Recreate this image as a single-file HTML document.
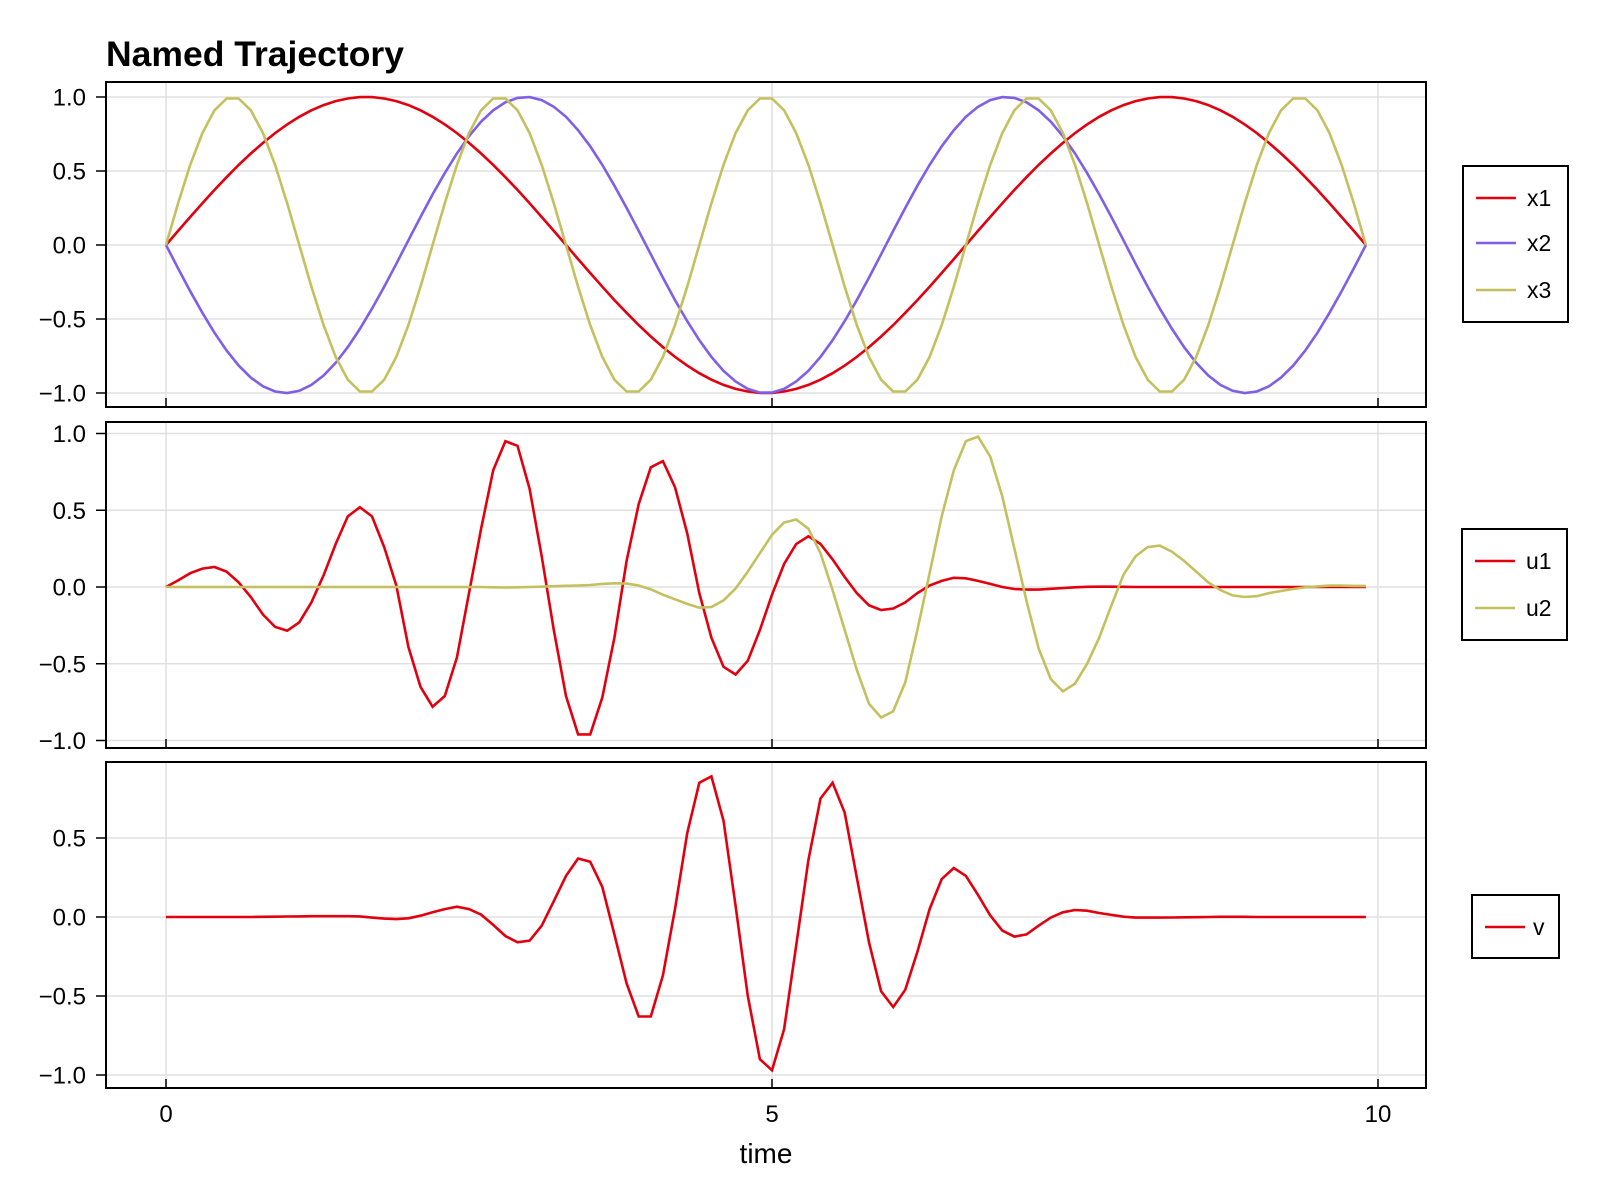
<!DOCTYPE html>
<html><head><meta charset="utf-8"><style>
html,body{margin:0;padding:0;background:#fff;}
svg{display:block;font-family:"Liberation Sans",sans-serif;}
</style></head><body>
<svg id="fig" width="1600" height="1200" viewBox="0 0 1600 1200">
<text x="106" y="66" font-size="35.5" font-weight="bold">Named Trajectory</text>
<text x="766" y="1163" font-size="28" text-anchor="middle">time</text>
<g id="legend-x">
<rect x="1463" y="166" width="105" height="156" fill="#fff" stroke="#000" stroke-width="2"/>
<line x1="1476" y1="198" x2="1516" y2="198" stroke="#e2000f" stroke-width="2.5"/>
<text x="1527" y="206" font-size="23">x1</text>
<line x1="1476" y1="243" x2="1516" y2="243" stroke="#7f5fe8" stroke-width="2.5"/>
<text x="1527" y="251" font-size="23">x2</text>
<line x1="1476" y1="290" x2="1516" y2="290" stroke="#c5c05e" stroke-width="2.5"/>
<text x="1527" y="298" font-size="23">x3</text>
</g>
<g id="legend-u">
<rect x="1462" y="529" width="105" height="111" fill="#fff" stroke="#000" stroke-width="2"/>
<line x1="1475" y1="561" x2="1515" y2="561" stroke="#e2000f" stroke-width="2.5"/>
<text x="1526" y="569" font-size="23">u1</text>
<line x1="1475" y1="608" x2="1515" y2="608" stroke="#c5c05e" stroke-width="2.5"/>
<text x="1526" y="616" font-size="23">u2</text>
</g>
<g id="legend-v">
<rect x="1472" y="895" width="87" height="63" fill="#fff" stroke="#000" stroke-width="2"/>
<line x1="1485" y1="927" x2="1525" y2="927" stroke="#e2000f" stroke-width="2.5"/>
<text x="1533" y="935" font-size="23">v</text>
</g>
</svg>
<script>
const xTicks = [0, 5, 10];
const xTickLabels = ["0", "5", "10"];
const yTicksTop = [-1, -0.5, 0, 0.5, 1];
const yTickLabelsTop = ["\u22121.0", "\u22120.5", "0.0", "0.5", "1.0"];
const yTicksBottom = [-1, -0.5, 0, 0.5];
const yTickLabelsBottom = ["\u22121.0", "\u22120.5", "0.0", "0.5"];
const tStep = 0.1;
const x1 = [0,.095,.189,.282,.372,.458,.541,.618,.690,.756,.815,.866,.910,.945,.972,.990,.999,.999,.990,.972,.945,.910,.866,.815,.756,.690,.618,.541,.458,.372,.282,.189,.095,0,
-.095,-.189,-.282,-.372,-.458,-.541,-.618,-.690,-.756,-.815,-.866,-.910,-.945,-.972,-.990,-.999,-.999,-.990,-.972,-.945,-.910,-.866,-.815,-.756,-.690,-.618,-.541,-.458,-.372,-.282,-.189,-.095,0,
.095,.189,.282,.372,.458,.541,.618,.690,.756,.815,.866,.910,.945,.972,.990,.999,.999,.990,.972,.945,.910,.866,.815,.756,.690,.618,.541,.458,.372,.282,.189,.095,0];
const x2 = [0,-.158,-.312,-.458,-.593,-.713,-.815,-.896,-.955,-.990,-1.0,-.985,-.945,-.882,-.796,-.690,-.567,-.430,-.282,-.127,
.032,.189,.342,.486,.618,.735,.833,.910,.964,.994,.999,.979,.934,.866,.776,.667,.541,.401,.251,.095,
-.063,-.220,-.372,-.514,-.643,-.756,-.850,-.922,-.972,-.997,
-.997,-.972,-.922,-.850,-.756,-.643,-.514,-.372,-.220,-.063,
.095,.251,.401,.541,.667,.776,.866,.934,.979,.999,.994,.964,.910,.833,.735,.618,.486,.342,.189,.032,
-.127,-.282,-.430,-.567,-.690,-.796,-.882,-.945,-.985,-1.0,-.990,-.955,-.896,-.815,-.713,-.593,-.458,-.312,-.158,0];
const x3 = [0,.282,.541,.756,.910,.990,.990,.910,.756,.541,.282,0,-.282,-.541,-.756,-.910,-.990,-.990,-.910,-.756,-.541,-.282,
0,.282,.541,.756,.910,.990,.990,.910,.756,.541,.282,0,-.282,-.541,-.756,-.910,-.990,-.990,-.910,-.756,-.541,-.282,
0,.282,.541,.756,.910,.990,.990,.910,.756,.541,.282,0,-.282,-.541,-.756,-.910,-.990,-.990,-.910,-.756,-.541,-.282,
0,.282,.541,.756,.910,.990,.990,.910,.756,.541,.282,0,-.282,-.541,-.756,-.910,-.990,-.990,-.910,-.756,-.541,-.282,
0,.282,.541,.756,.910,.990,.990,.910,.756,.541,.282,0];
const u1 = [0,.043,.09,.12,.13,.10,.03,-.065,-.18,-.26,
-.285,-.23,-.10,.076,.28,.46,.52,.46,.26,.01,
-.39,-.65,-.78,-.71,-.46,-.04,.38,.76,.95,.92,
.64,.2,-.28,-.71,-.96,-.96,-.72,-.33,.17,.54,
.78,.82,.65,.35,-.04,-.33,-.52,-.57,-.48,-.28,
-.05,.15,.28,.33,.28,.18,.065,-.04,-.12,-.15,
-.14,-.1,-.04,.01,.04,.06,.057,.04,.02,0,
-.013,-.017,-.017,-.012,-.007,-.002,.001,.002,.002,.001,
0,0,0,0,0,0,0,0,0,0,
0,0,0,0,0,0,0,0,0,0];
const u2 = [0,0,0,0,0,0,0,0,0,0,
0,0,0,0,0,0,0,0,0,0,
0,0,0,0,0,0,0,-.002,-.003,-.002,
0,.002,.005,.008,.01,.013,.02,.024,.022,.01,
-.015,-.05,-.08,-.11,-.135,-.13,-.087,-.01,.1,.22,
.34,.42,.44,.38,.22,-.02,-.28,-.54,-.76,-.85,
-.81,-.62,-.28,.09,.46,.76,.95,.98,.85,.59,
.25,-.09,-.40,-.60,-.68,-.63,-.50,-.33,-.12,.08,
.2,.26,.27,.23,.17,.1,.03,-.02,-.055,-.065,
-.06,-.04,-.026,-.013,-.002,.004,.009,.009,.007,.007];
const v = [0,0,0,0,0,0,0,0,.001,.002,
.003,.004,.005,.005,.005,.005,.004,-.004,-.01,-.013,
-.008,.008,.03,.05,.065,.05,.015,-.05,-.12,-.16,
-.15,-.055,.10,.26,.37,.35,.19,-.11,-.42,-.63,
-.63,-.37,.05,.53,.85,.89,.61,.07,-.5,-.9,
-.97,-.71,-.18,.36,.75,.85,.66,.25,-.16,-.47,
-.57,-.46,-.22,.05,.24,.31,.26,.14,.01,-.086,
-.124,-.11,-.055,-.004,.03,.044,.04,.025,.013,.002,
-.004,-.004,-.004,-.003,-.002,-.001,0,.001,.001,.001,
0,0,0,0,0,0,0,0,0,0];

const NS = "http://www.w3.org/2000/svg";
const svg = document.getElementById("fig");
const L = 106, R = 1426;
const xScale = t => 166 + t * 121.2;
const panels = [
  {name:"states", top:82, bottom:407, zero:245, unit:148, ticks:yTicksTop, labels:yTickLabelsTop,
   series:[{name:"x1", d:x1, c:"#e2000f"},{name:"x2", d:x2, c:"#7f5fe8"},{name:"x3", d:x3, c:"#c5c05e"}]},
  {name:"controls", top:422, bottom:748, zero:587, unit:153.5, ticks:yTicksTop, labels:yTickLabelsTop,
   series:[{name:"u1", d:u1, c:"#e2000f"},{name:"u2", d:u2, c:"#c5c05e"}]},
  {name:"v", top:762, bottom:1088, zero:917, unit:158, ticks:yTicksBottom, labels:yTickLabelsBottom,
   series:[{name:"v", d:v, c:"#e2000f"}]}
];
function mk(tag, attrs){ const e=document.createElementNS(NS,tag); for(const k in attrs) e.setAttribute(k,attrs[k]); return e; }
panels.forEach((p, pi) => {
  const g = mk("g", {});
  
  
  svg.appendChild(g);
  const yS = val => p.zero - val * p.unit;
  xTicks.forEach(t => {
    const gl = mk("line", {x1:xScale(t), x2:xScale(t), y1:p.top, y2:p.bottom, stroke:"#e0e0e0", "stroke-width":1.5});
    
    
    g.appendChild(gl);
  });
  p.ticks.forEach((val, i) => {
    const y = yS(val);
    const gl = mk("line", {x1:L, x2:R, y1:y, y2:y, stroke:"#e0e0e0", "stroke-width":1.5});
    
    
    g.appendChild(gl);
    const tk = mk("line", {x1:L-10, x2:L, y1:y, y2:y, stroke:"#000", "stroke-width":1.5});
    
    
    g.appendChild(tk);
    const tl = mk("text", {x:L-20, y:y+8.5, "font-size":24, "text-anchor":"end"});
    tl.textContent = p.labels[i];
    
    
    g.appendChild(tl);
  });
  p.series.forEach(s => {
    const pts = s.d.map((val, k) => xScale(k * tStep).toFixed(1) + "," + yS(val).toFixed(1)).join(" ");
    const pl = mk("polyline", {points:pts, fill:"none", stroke:s.c, "stroke-width":2.6, "stroke-linejoin":"miter"});
    
    
    g.appendChild(pl);
  });
  xTicks.forEach(t => {
    const tk = mk("line", {x1:xScale(t), x2:xScale(t), y1:p.bottom-9, y2:p.bottom, stroke:"#000", "stroke-width":1.5});
    
    
    g.appendChild(tk);
  });
  const fr = mk("rect", {x:L, y:p.top, width:R-L, height:p.bottom-p.top, fill:"none", stroke:"#000", "stroke-width":2});
  
  
  g.appendChild(fr);
  if (pi === panels.length - 1) {
    xTicks.forEach((t, i) => {
      const tl = mk("text", {x:xScale(t), y:p.bottom+34, "font-size":24, "text-anchor":"middle"});
      tl.textContent = xTickLabels[i];
      
      
      g.appendChild(tl);
    });
  }
});
</script>
</body></html>
